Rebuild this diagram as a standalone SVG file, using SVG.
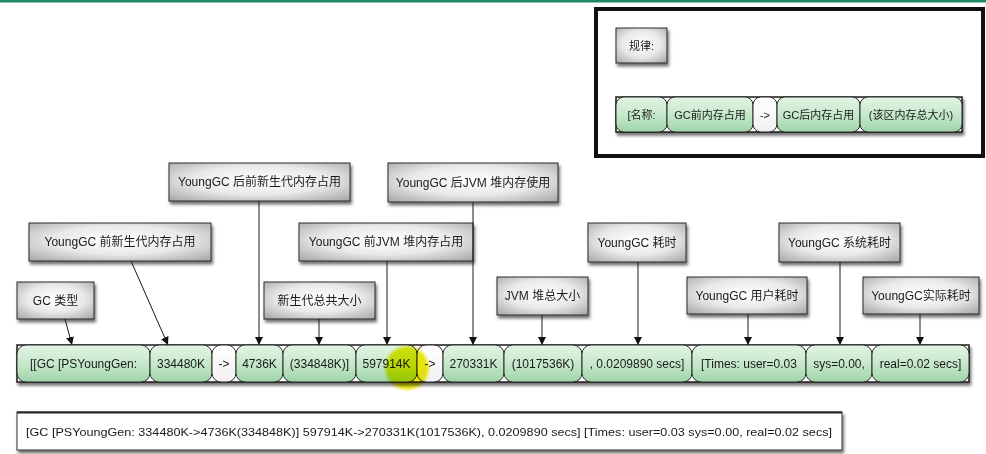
<svg xmlns="http://www.w3.org/2000/svg" width="986" height="454" viewBox="0 0 986 454">
<defs>
<radialGradient id="gLabel" cx="50%" cy="45%" r="75%">
<stop offset="0" stop-color="#ffffff"/>
<stop offset="0.5" stop-color="#e9e9e9"/>
<stop offset="1" stop-color="#a2a2a2"/>
</radialGradient>
<linearGradient id="gGreen" x1="0" y1="0" x2="0" y2="1">
<stop offset="0" stop-color="#e4f4e6"/>
<stop offset="0.5" stop-color="#c6e8cb"/>
<stop offset="1" stop-color="#9fd4a8"/>
</linearGradient>
<linearGradient id="gWhite" x1="0" y1="0" x2="0" y2="1">
<stop offset="0" stop-color="#ffffff"/>
<stop offset="1" stop-color="#f0f0f0"/>
</linearGradient>
<radialGradient id="gYellow" cx="50%" cy="50%" r="50%">
<stop offset="0" stop-color="#f4f000"/>
<stop offset="0.8" stop-color="#ecea10"/>
<stop offset="1" stop-color="#ecea10" stop-opacity="0"/>
</radialGradient>
<filter id="shadow" x="-10%" y="-20%" width="125%" height="160%">
<feDropShadow dx="1.5" dy="3" stdDeviation="1.5" flood-color="#000" flood-opacity="0.55"/>
</filter>
<marker id="arrow" viewBox="0 0 10 10" refX="10" refY="5" markerWidth="8" markerHeight="8" orient="auto" markerUnits="userSpaceOnUse">
<path d="M0,0 L10,5 L0,10 z" fill="#111"/>
</marker>
<style>
.lbl{fill:url(#gLabel);stroke:#2a2a2a;stroke-width:1;filter:url(#shadow)}
.lt{font-family:"Liberation Sans","Noto Sans CJK SC",sans-serif;font-size:12px;fill:#1a1a1a;text-anchor:middle;dominant-baseline:central}
.sm{font-size:11px}
.seg{fill:url(#gGreen);stroke:#2a2a2a;stroke-width:1}
.segw{fill:url(#gWhite);stroke:#2a2a2a;stroke-width:1}
.row{fill:#ffffff;stroke:#1a1a1a;stroke-width:1.5;filter:url(#shadow)}
.conn line{stroke:#1a1a1a;stroke-width:1;marker-end:url(#arrow)}
</style>
</defs>
<rect x="0" y="0" width="986" height="454" fill="#ffffff"/>
<rect x="0" y="0" width="986" height="2.5" fill="#1f8a6a"/>

<!-- legend -->
<g id="legend">
<rect x="596" y="9" width="387" height="147" fill="#ffffff" stroke="#111" stroke-width="4"/>
<g id="legend-title">
<rect class="lbl" x="616" y="28" width="51" height="35"/>
<text class="lt sm" x="641.5" y="45.5">规律:</text>
</g>
<g id="legend-row">
<rect class="row" x="616" y="97" width="346" height="35"/>
<rect class="seg" x="616" y="97" width="51" height="35" rx="8"/>
<text class="lt sm" x="641.5" y="114.5">[名称:</text>
<rect class="seg" x="667" y="97" width="86" height="35" rx="8"/>
<text class="lt sm" x="710" y="114.5">GC前内存占用</text>
<rect class="segw" x="753" y="97" width="24" height="35" rx="8"/>
<text class="lt sm" x="765" y="114.5">-&gt;</text>
<rect class="seg" x="777" y="97" width="83" height="35" rx="8"/>
<text class="lt sm" x="818.5" y="114.5">GC后内存占用</text>
<rect class="seg" x="860" y="97" width="102" height="35" rx="8"/>
<text class="lt sm" x="911" y="114.5">(该区内存总大小)</text>
</g>
</g>

<!-- main row -->
<g id="main-row">
<rect class="row" x="17" y="345" width="952" height="37"/>
<rect class="seg" x="17" y="345" width="133" height="37" rx="9"/>
<text class="lt" x="83.5" y="363.5">[[GC [PSYoungGen:</text>
<rect class="seg" x="150" y="345" width="62" height="37" rx="9"/>
<text class="lt" x="181" y="363.5">334480K</text>
<rect class="segw" x="212" y="345" width="24" height="37" rx="9"/>
<text class="lt" x="224" y="363.5">-&gt;</text>
<rect class="seg" x="236" y="345" width="47" height="37" rx="9"/>
<text class="lt" x="259.5" y="363.5">4736K</text>
<rect class="seg" x="283" y="345" width="73" height="37" rx="9"/>
<text class="lt" x="319.5" y="363.5">(334848K)]</text>
<rect class="seg" x="356" y="345" width="61" height="37" rx="9"/>
<text class="lt" x="386.5" y="363.5">597914K</text>
<rect class="segw" x="417" y="345" width="26" height="37" rx="9"/>
<text class="lt" x="430" y="363.5">-&gt;</text>
<rect class="seg" x="443" y="345" width="61" height="37" rx="9"/>
<text class="lt" x="473.5" y="363.5">270331K</text>
<rect class="seg" x="504" y="345" width="78" height="37" rx="9"/>
<text class="lt" x="543" y="363.5">(1017536K)</text>
<rect class="seg" x="582" y="345" width="110" height="37" rx="9"/>
<text class="lt" x="637" y="363.5">, 0.0209890 secs]</text>
<rect class="seg" x="692" y="345" width="114" height="37" rx="9"/>
<text class="lt" x="749" y="363.5">[Times: user=0.03</text>
<rect class="seg" x="806" y="345" width="66" height="37" rx="9"/>
<text class="lt" x="839" y="363.5">sys=0.00,</text>
<rect class="seg" x="872" y="345" width="97" height="37" rx="9"/>
<text class="lt" x="920.5" y="363.5">real=0.02 secs]</text>
</g>

<!-- cursor highlight -->
<circle cx="407" cy="368" r="24" fill="url(#gYellow)" style="mix-blend-mode:multiply"/>

<!-- labels -->
<g id="n-gctype"><rect class="lbl" x="17" y="282" width="77" height="37"/><text class="lt" x="55.5" y="300.5">GC 类型</text></g>
<g id="n-before-young"><rect class="lbl" x="29" y="223" width="182" height="38"/><text class="lt" x="120" y="242">YoungGC 前新生代内存占用</text></g>
<g id="n-after-young"><rect class="lbl" x="169" y="163" width="181" height="38"/><text class="lt" x="259.5" y="182">YoungGC 后前新生代内存占用</text></g>
<g id="n-young-total"><rect class="lbl" x="264" y="282" width="111" height="37"/><text class="lt" x="319.5" y="300.5">新生代总共大小</text></g>
<g id="n-before-jvm"><rect class="lbl" x="299" y="223" width="174" height="38"/><text class="lt" x="386" y="242">YoungGC 前JVM 堆内存占用</text></g>
<g id="n-after-jvm"><rect class="lbl" x="388" y="163" width="170" height="39"/><text class="lt" x="473" y="182.5">YoungGC 后JVM 堆内存使用</text></g>
<g id="n-jvm-total"><rect class="lbl" x="497" y="277" width="91" height="38"/><text class="lt" x="542.5" y="296">JVM 堆总大小</text></g>
<g id="n-time"><rect class="lbl" x="588" y="223" width="98" height="39"/><text class="lt" x="637" y="242.5">YoungGC 耗时</text></g>
<g id="n-user"><rect class="lbl" x="687" y="277" width="120" height="37"/><text class="lt" x="747" y="295.5">YoungGC 用户耗时</text></g>
<g id="n-sys"><rect class="lbl" x="779" y="223" width="121" height="39"/><text class="lt" x="839.5" y="242.5">YoungGC 系统耗时</text></g>
<g id="n-real"><rect class="lbl" x="863" y="277" width="116" height="37"/><text class="lt" x="921" y="295.5">YoungGC实际耗时</text></g>

<!-- connectors -->
<g id="connectors" class="conn">
<line x1="65" y1="319" x2="72" y2="345"/>
<line x1="131" y1="261" x2="168" y2="345"/>
<line x1="259" y1="201" x2="259" y2="345"/>
<line x1="319" y1="319" x2="319" y2="345"/>
<line x1="387" y1="261" x2="387" y2="345"/>
<line x1="473" y1="202" x2="473" y2="345"/>
<line x1="542" y1="315" x2="542" y2="345"/>
<line x1="638" y1="262" x2="638" y2="345"/>
<line x1="748" y1="314" x2="748" y2="345"/>
<line x1="840" y1="262" x2="840" y2="345"/>
<line x1="920" y1="314" x2="920" y2="345"/>
</g>

<!-- bottom raw line -->
<g id="raw-line">
<rect x="17" y="412" width="825" height="38" fill="#ffffff" stroke="#333" stroke-width="1" filter="url(#shadow)"/>
<line x1="17" y1="412.5" x2="842" y2="412.5" stroke="#222" stroke-width="2"/>
<text x="26" y="436" font-family="'Liberation Sans',sans-serif" font-size="11.5" fill="#1a1a1a" textLength="806" lengthAdjust="spacingAndGlyphs">[GC [PSYoungGen: 334480K-&gt;4736K(334848K)] 597914K-&gt;270331K(1017536K), 0.0209890 secs] [Times: user=0.03 sys=0.00, real=0.02 secs]</text>
</g>
</svg>
